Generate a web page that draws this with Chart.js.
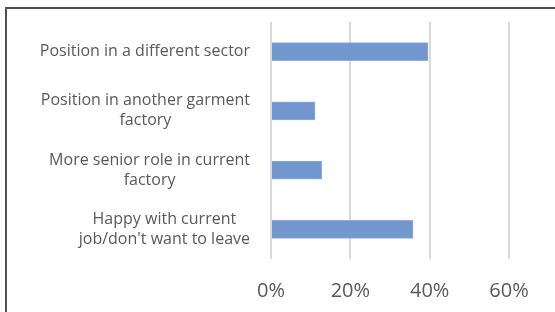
<!DOCTYPE html>
<html>
<head>
<meta charset="utf-8">
<script src="https://cdn.jsdelivr.net/npm/chart.js@4/dist/chart.umd.min.js"></script>
<style>
  html, body { margin: 0; padding: 0; background: #fff; overflow: hidden; }
  #wrap { position: relative; width: 555px; height: 312px; }
  #frame { position: absolute; left: 5px; top: 7px; width: 600px; height: 400px;
           border-left: 2px solid #505050; border-top: 2px solid #505050; box-sizing: border-box; pointer-events: none; }
  canvas { position: absolute; left: 0; top: 0; }
</style>
</head>
<body>
<div id="wrap">
  <canvas id="c" width="555" height="312"></canvas>
  <div id="frame"></div>
</div>
<script>
const categories = [
  ["Position in a different sector"],
  ["Position in another garment", "factory"],
  ["More senior role in current", "factory"],
  ["Happy with current", "job/don't want to leave"]
];
const values = [39.6, 11.1, 12.8, 35.8];
const xTicks = [0, 20, 40, 60];

const labelFont = '16px "Open Sans"';
const textColor = '#595959';

const yLabelPlugin = {
  id: 'yLabels',
  afterDraw(chart) {
    const ys = chart.scales.y;
    const ctx = chart.ctx;
    ctx.save();
    ctx.font = labelFont;
    ctx.fillStyle = textColor;
    ctx.textAlign = 'center';
    ctx.textBaseline = 'middle';
    const lineH = 20;
    const rightEdge = chart.chartArea.left - 21;
    categories.forEach((lines, i) => {
      const y = ys.getPixelForTick(i);
      const w = Math.max(...lines.map(l => ctx.measureText(l).width));
      const cx = rightEdge - w / 2;
      const y0 = y - (lines.length - 1) * lineH / 2;
      lines.forEach((l, j) => ctx.fillText(l, cx, y0 + j * lineH));
    });
    ctx.restore();
  }
};

new Chart(document.getElementById('c'), {
  type: 'bar',
  data: {
    labels: categories,
    datasets: [{
      data: values,
      backgroundColor: '#7297ce',
      borderColor: '#8fadda',
      borderWidth: 1,
      barThickness: 18
    }]
  },
  options: {
    indexAxis: 'y',
    responsive: false,
    animation: false,
    devicePixelRatio: 1,
    layout: { padding: { top: 22, right: 46, left: 0, bottom: 0 } },
    plugins: { legend: { display: false }, tooltip: { enabled: false } },
    scales: {
      x: {
        min: 0, max: 60,
        afterBuildTicks(scale) { scale.ticks = xTicks.map(v => ({ value: v })); },
        afterFit(scale) { scale.height = 53; },
        grid: { color: '#d9d9d9', lineWidth: 2, drawTicks: false },
        border: { display: false },
        ticks: {
          padding: 20,
          color: textColor,
          font: { family: 'Open Sans', size: 20 },
          callback: v => v + '%'
        }
      },
      y: {
        afterFit(scale) { scale.width = 271; },
        grid: { display: false, drawTicks: false },
        border: { display: false },
        ticks: { display: false }
      }
    }
  },
  plugins: [yLabelPlugin]
});
</script>
</body>
</html>
